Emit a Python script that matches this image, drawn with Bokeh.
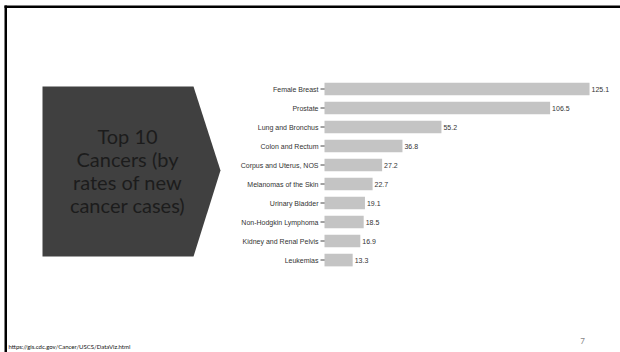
from bokeh.plotting import figure
from bokeh.models import (Range1d, ColumnDataSource, LabelSet, Label, BoxAnnotation)
from bokeh.core.properties import value
from bokeh.embed import file_html
from bokeh.resources import INLINE

# ---- data ----
categories = ["Female Breast", "Prostate", "Lung and Bronchus", "Colon and Rectum",
              "Corpus and Uterus, NOS", "Melanomas of the Skin", "Urinary Bladder",
              "Non-Hodgkin Lymphoma", "Kidney and Renal Pelvis", "Leukemias"]
rates = [125.1, 106.5, 55.2, 36.8, 27.2, 22.7, 19.1, 18.5, 16.9, 13.3]
rate_labels = ["125.1", "106.5", "55.2", "36.8", "27.2", "22.7", "19.1", "18.5", "16.9", "13.3"]
title_lines = ["Top 10", "Cancers (by", "rates of new", "cancer cases)"]
source_url = "https://gis.cdc.gov/Cancer/USCS/DataViz.html"
page_number = "7"

W, H = 620, 352
CL, CR, CT, ROW = 324, 610, 79, 19   # chart area anchors (pixels) and row pitch
XMAX = 135.0

n = len(categories)
pos = list(range(n))
zeros = [0] * n

sx = (CR - CL) / XMAX
x_start, x_end = -CL / sx, (W - CL) / sx
y_top = -0.5 - CT / ROW
y_bottom = y_top + H / ROW

p = figure(width=W, height=H, output_backend="svg", toolbar_location=None,
           x_range=Range1d(x_start, x_end), y_range=Range1d(y_bottom, y_top),
           x_axis_location=None, y_axis_location=None,
           min_border=0, min_border_left=0, min_border_right=0, min_border_top=0, min_border_bottom=0)
p.outline_line_color = None
p.background_fill_color = "white"
p.border_fill_color = "white"
p.xgrid.visible = False
p.ygrid.visible = False

# pixel-space ranges for slide decorations
p.extra_x_ranges = {"px": Range1d(0, W)}
p.extra_y_ranges = {"py": Range1d(H, 0)}

# arrow-shaped title box
p.patch(x=[42, 193, 220, 193, 42], y=[86, 86, 170, 256, 256], x_range_name="px", y_range_name="py",
        fill_color="#404040", line_color=None)

src = ColumnDataSource(dict(y=pos, x0=zeros, rate=rates, lab=rate_labels, cat=categories))

# tick marks (half hidden behind the bars)
p.scatter(x="x0", y="y", source=src, marker="dash", size=8, line_color="#444444", line_width=1)
p.hbar(y="y", right="rate", left=0, height=0.67, source=src,
       fill_color="#c4c4c4", line_color=None)
# category labels
p.add_layout(LabelSet(x="x0", y="y", text="cat", source=src, x_offset=-6,
                      text_align="right", text_baseline="middle", text_font=value("Liberation Sans"),
                      text_font_size="7px", text_color="#333333"))
# value labels
p.add_layout(LabelSet(x="rate", y="y", text="lab", source=src, x_offset=2,
                      text_baseline="middle", text_font=value("Liberation Sans"),
                      text_font_size="7px", text_color="#333333"))

def box(l, r, t, b, color):
    p.add_layout(BoxAnnotation(left=l, right=r, top=t, bottom=b, x_range_name="px", y_range_name="py",
                               fill_color=color, fill_alpha=1, line_color=None))

box(4, 620, 5, 7.5, "black")
box(4, 6.5, 5, 352, "black")

for i, t in enumerate(title_lines):
    p.add_layout(Label(x=127, y=135 + i * 23, text=t, x_range_name="px", y_range_name="py",
                       text_align="center", text_baseline="middle", text_font="Lato",
                       text_font_size="20px", text_color="#1c1c1c"))

p.add_layout(Label(x=8, y=346, text=source_url, x_range_name="px", y_range_name="py",
                   text_align="left", text_baseline="middle", text_font="Lato",
                   text_font_size="6px", text_color="#111111"))
p.add_layout(Label(x=582, y=340, text=page_number, x_range_name="px", y_range_name="py",
                   text_align="center", text_baseline="middle", text_font="Lato",
                   text_font_size="8px", text_color="#888888"))

open("out.html", "w").write(file_html(p, INLINE))
